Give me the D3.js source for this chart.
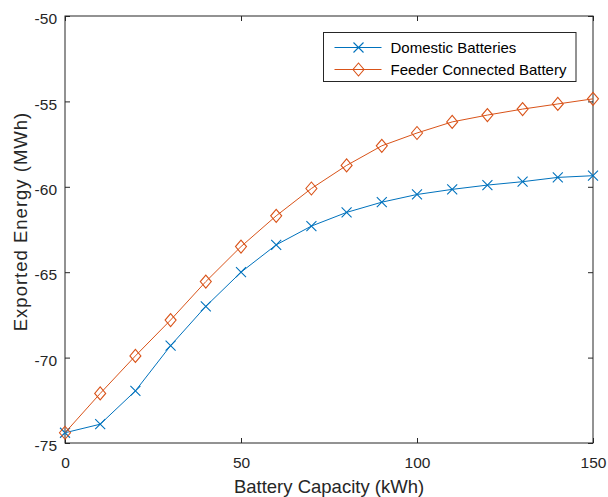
<!DOCTYPE html>
<html>
<head>
<meta charset="utf-8">
<script src="https://cdn.jsdelivr.net/npm/d3@7"></script>
<style>
  body { margin: 0; background: #fff; }
  svg { display: block; font-family: "Liberation Sans", Arial, Helvetica, sans-serif; }
</style>
</head>
<body>
<div id="chart"></div>
<script>
// battery capacity (kWh)
var capacity = [0, 10, 20, 30, 40, 50, 60, 70, 80, 90, 100, 110, 120, 130, 140, 150];
var domestic = [-74.4, -73.9, -71.95, -69.3, -67.0, -65.0, -63.4, -62.3, -61.5, -60.9, -60.45, -60.15, -59.9, -59.7, -59.45, -59.35];
var feeder = [-74.4, -72.1, -69.9, -67.8, -65.55, -63.5, -61.7, -60.1, -58.75, -57.6, -56.85, -56.2, -55.8, -55.45, -55.15, -54.85];
var xTicks = [0, 50, 100, 150];
var yTicks = [-75, -70, -65, -60, -55, -50];
var seriesNames = ['Domestic Batteries', 'Feeder Connected Battery'];

var width = 608, height = 497;
var margin = { top: 16, right: 15, bottom: 54, left: 65 };
var iw = width - margin.left - margin.right;
var ih = height - margin.top - margin.bottom;
var axisColor = '#262626';
var blue = '#0072BD', orange = '#D95319';

var svg = d3.select('#chart').append('svg')
    .attr('width', width)
    .attr('height', height);

var x = d3.scaleLinear().domain([0, 150]).range([0, iw]);
var y = d3.scaleLinear().domain([-75, -50]).range([ih, 0]);

var g = svg.append('g').attr('transform', 'translate(' + margin.left + ',' + margin.top + ')');

// box
g.append('rect')
    .attr('width', iw).attr('height', ih)
    .attr('fill', 'none').attr('stroke', axisColor).attr('stroke-width', 1);

var fmt = function (d) { return String(d); };  // plain hyphen minus like matlab

function styleAxis(sel, showText) {
    sel.select('.domain').remove();
    sel.selectAll('line').attr('stroke', axisColor);
    sel.selectAll('text')
        .attr('fill', axisColor)
        .style('font-size', '15.5px')
        .style('display', showText ? null : 'none');
}

g.append('g').attr('transform', 'translate(0,' + ih + ')')
    .call(d3.axisBottom(x).tickValues(xTicks).tickFormat(fmt).tickSizeInner(-5).tickPadding(14))
    .call(styleAxis, true);
g.append('g')
    .call(d3.axisTop(x).tickValues(xTicks).tickSizeInner(-5))
    .call(styleAxis, false);
g.append('g')
    .call(d3.axisLeft(y).tickValues(yTicks).tickFormat(fmt).tickSizeInner(-5).tickPadding(8))
    .call(styleAxis, true)
    .selectAll('text').attr('dy', '0.5em');
g.append('g').attr('transform', 'translate(' + iw + ',0)')
    .call(d3.axisRight(y).tickValues(yTicks).tickSizeInner(-5))
    .call(styleAxis, false);

// axis labels
svg.append('text')
    .attr('x', margin.left + iw / 2).attr('y', 493)
    .attr('text-anchor', 'middle').attr('fill', axisColor)
    .style('font-size', '18.5px')
    .text('Battery Capacity (kWh)');
svg.append('text')
    .attr('transform', 'translate(27,' + (margin.top + ih / 2 - 8) + ') rotate(-90)')
    .attr('text-anchor', 'middle').attr('fill', axisColor)
    .style('font-size', '18.5px')
    .style('letter-spacing', '1px')
    .text('Exported Energy (MWh)');

var line = d3.line().x(function (d) { return x(d[0]); }).y(function (d) { return y(d[1]); });

function crossPath(s) {
    return 'M' + (-s) + ',' + (-s) + 'L' + s + ',' + s + 'M' + (-s) + ',' + s + 'L' + s + ',' + (-s);
}
function diamondPath(w, h) {
    return 'M0,' + (-h) + 'L' + w + ',0L0,' + h + 'L' + (-w) + ',0Z';
}

var series = [
    { name: seriesNames[0], values: domestic, color: blue, marker: crossPath(5) },
    { name: seriesNames[1], values: feeder, color: orange, marker: diamondPath(5.5, 6.5) }
];

series.forEach(function (s) {
    var pts = capacity.map(function (c, i) { return [c, s.values[i]]; });
    g.append('path').datum(pts)
        .attr('d', line)
        .attr('fill', 'none').attr('stroke', s.color).attr('stroke-width', 1);
    g.selectAll(null).data(pts).enter().append('path')
        .attr('transform', function (d) { return 'translate(' + x(d[0]) + ',' + y(d[1]) + ')'; })
        .attr('d', s.marker)
        .attr('fill', 'none').attr('stroke', s.color).attr('stroke-width', 1.1);
});

// legend
var legend = svg.append('g').attr('transform', 'translate(323.5,32.5)');
legend.append('rect')
    .attr('width', 252.5).attr('height', 49)
    .attr('fill', '#fff').attr('stroke', axisColor).attr('stroke-width', 1);
series.forEach(function (s, i) {
    var row = legend.append('g').attr('transform', 'translate(0,' + (15 + i * 22) + ')');
    row.append('line').attr('x1', 11).attr('x2', 58).attr('y1', 0).attr('y2', 0)
        .attr('stroke', s.color).attr('stroke-width', 1);
    row.append('path').attr('transform', 'translate(35,0)').attr('d', s.marker)
        .attr('fill', 'none').attr('stroke', s.color).attr('stroke-width', 1.1);
    row.append('text').attr('x', 67).attr('y', 5.3)
        .attr('fill', '#000').style('font-size', '15px')
        .text(s.name);
});
</script>
</body>
</html>
